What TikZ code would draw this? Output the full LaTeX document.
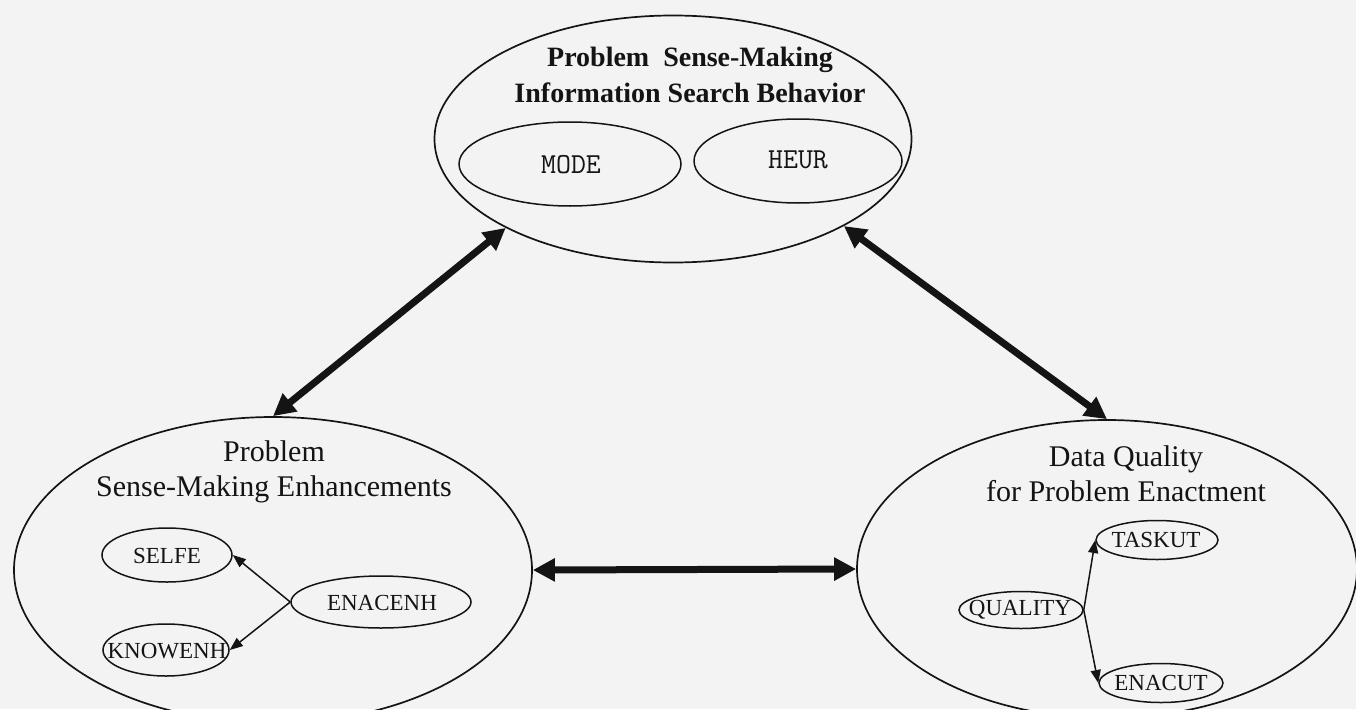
\documentclass[tikz,border=0pt]{standalone}
\usepackage{fontspec}
\setmainfont{Liberation Serif}
\usetikzlibrary{shapes.geometric,arrows.meta}
\definecolor{paper}{RGB}{243,243,243}
\definecolor{ink}{RGB}{20,20,20}
\begin{document}
\begin{tikzpicture}[x=1pt,y=-1pt,
  bigell/.style={draw=ink,ellipse,line width=1.7pt,inner sep=0pt},
  smallell/.style={draw=ink,ellipse,line width=1.5pt,inner sep=0pt},
  lbl/.style={text=ink,inner sep=0pt,font=\fontsize{23}{23}\selectfont},
  monolbl/.style={text=ink,inner sep=0pt,font=\fontsize{29}{29}\selectfont\ttfamily},
  titletext/.style={align=center,text=ink,font=\fontsize{30}{35}\selectfont},
  bigarrow/.style={draw=ink,line width=7pt,{Triangle[length=22pt,width=22pt]}-{Triangle[length=22pt,width=22pt]}},
  smallarrow/.style={draw=ink,line width=1.5pt,-{Triangle[length=13pt,width=10pt]}}
]
\fill[paper] (0,0) rectangle (1356,709);
\useasboundingbox (0,0) rectangle (1356,709);
\clip (0,0) rectangle (1356,709);

% top group
\node[bigell,minimum width=477pt,minimum height=247pt] (top) at (673,139) {};
\node[titletext,font=\fontsize{28}{36}\selectfont\bfseries] (toptitle) at (690,75) {Problem\ \ Sense-Making\\Information Search Behavior};
\node[smallell,minimum width=222pt,minimum height=84pt] (mode) at (570,164) {};
\node[monolbl] (modetext) at (571,165) {MODE};
\node[smallell,minimum width=208pt,minimum height=84pt] (heur) at (798,161) {};
\node[monolbl] (heurtext) at (798,160) {HEUR};

% lower left group
\node[bigell,minimum width=518pt,minimum height=306pt] (ll) at (273,570) {};
\node[titletext] (lltitle) at (274,472) {Problem\\Sense-Making Enhancements};
\node[smallell,minimum width=130pt,minimum height=54pt] (selfe) at (167,555) {};
\node[lbl] (selfetext) at (167,556) {SELFE};
\node[smallell,minimum width=180pt,minimum height=52pt] (enacenh) at (381,602) {};
\node[lbl] (enacenhtext) at (382,603) {ENACENH};
\node[smallell,minimum width=126pt,minimum height=52pt] (knowenh) at (166,650) {};
\node[lbl] (knowenhtext) at (167,651) {KNOWENH};

% lower right group
\node[bigell,minimum width=500pt,minimum height=298pt] (lr) at (1107,569) {};
\node[titletext] (lrtitle) at (1126,474) {Data Quality\\for Problem Enactment};
\node[smallell,minimum width=122pt,minimum height=39pt] (taskut) at (1157,540) {};
\node[lbl] (taskuttext) at (1156,540) {TASKUT};
\node[smallell,minimum width=124pt,minimum height=37pt] (quality) at (1021,610) {};
\node[lbl] (qualitytext) at (1020,610) {QUALITY};
\node[smallell,minimum width=124pt,minimum height=39pt] (enacut) at (1161,683) {};
\node[lbl] (enacuttext) at (1161,683) {ENACUT};

% big connectors
\draw[bigarrow] (top.208) -- (ll.90);
\draw[bigarrow] (top.333) -- (lr.90);
\draw[bigarrow] (ll.east) -- (lr.west);

% small connectors
\draw[smallarrow] (enacenh.west) -- (selfe.east);
\draw[smallarrow] (enacenh.west) -- (knowenh.east);
\draw[smallarrow] (quality.east) -- (taskut.west);
\draw[smallarrow] (quality.east) -- (enacut.west);
\end{tikzpicture}
\end{document}
